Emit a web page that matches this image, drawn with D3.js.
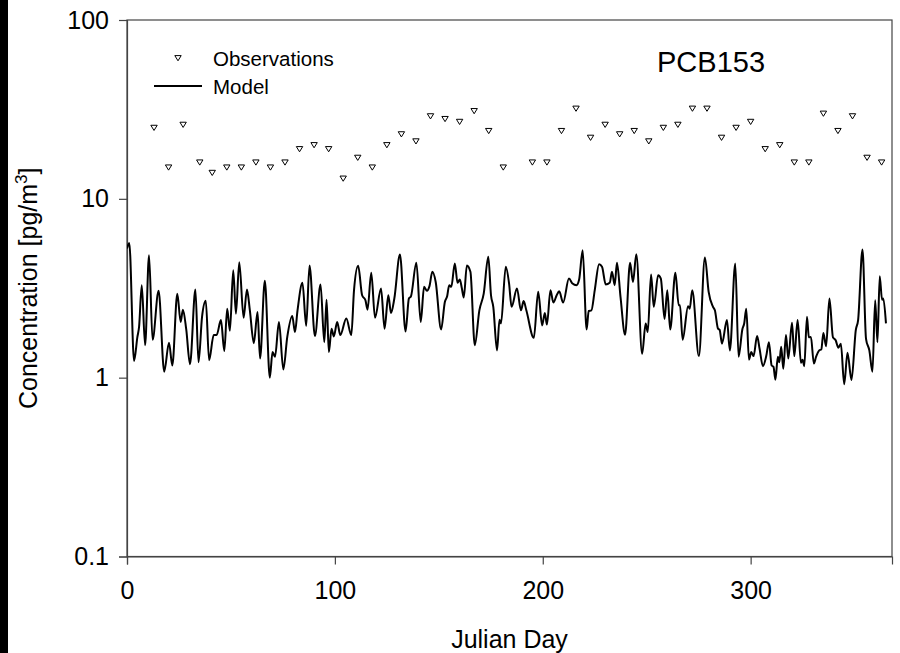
<!DOCTYPE html>
<html>
<head>
<meta charset="utf-8">
<script src="https://cdn.jsdelivr.net/npm/d3@7"></script>
<style>
  html, body { margin: 0; padding: 0; background: #fff; }
  svg { display: block; font-family: "Liberation Sans", Arial, sans-serif; }
</style>
</head>
<body>
<svg id="chart" width="900" height="653"></svg>
<script>
// ---- data ----
const obsDay = [13,20,27,35,41,48,55,62,69,76,83,90,97,104,111,118,125,132,139,146,153,160,167,174,181,195,202,209,216,223,230,237,244,251,258,265,272,279,286,293,300,307,314,321,328,335,342,349,356,363];
const obsConc = [25,15,26,16,14,15,15,16,15,16,19,20,19,13,17,15,20,23,21,29,28,27,31,24,15,16,16,24,32,22,26,23,24,21,25,26,32,32,22,25,27,19,20,16,16,30,24,29,17,16];

const modelDay = [0,1.1,3.4,5.0,5.8,7.1,8.7,10.6,12.3,15.2,17.9,20.2,21.8,24.2,25.8,26.9,28.5,30.3,32.9,34.4,36.1,37.9,39.5,41.7,43.1,45.2,46.8,48.2,49.5,51.1,52.4,54.0,56.1,57.7,59.1,61.0,62.8,64.0,66.3,68.7,70.0,
71.2,73.1,75.2,77.1,79.5,80.8,82.0,84.4,86.2,87.8,90.4,93.1,94.9,96.0,97.1,98.4,99.5,101.1,102.6,105.5,107.9,109.2,111.2,113.1,114.7,115.7,117.5,119.3,122.2,123.9,125.7,127.0,128.6,131.3,134.0,135.6,136.6,139.2,141.3,142.9,144.3,
145.5,146.9,148.5,151.1,152.9,154.0,155.0,156.0,157.7,159.0,160.1,161.1,162.0,163.5,165.2,167.3,169.5,171.6,173.8,175.1,176.2,178.0,179.2,179.9,182.2,183.8,185.0,187.6,189.5,190.8,192.1,195.7,197.8,199.7,201.0,202.0,203.7,205.1,206.7,207.9,209.8,212.6,214.3,216.2,217.5,219.2,
221.1,222.1,223.4,225.0,227.1,228.5,230.3,232.2,233.3,234.6,235.7,237.4,239.6,242.0,243.4,245.0,247.8,249.5,250.5,252.1,253.4,255.5,256.8,258.6,259.9,261.3,263.8,265.4,266.0,267.3,269.9,270.7,271.9,275.1,278.0,279.8,281.9,282.8,284.3,285.1,286.2,288.6,290.0,292.6,294.2,
296.0,296.9,297.9,299.2,300.3,301.4,303.1,304.3,305.9,307.5,308.8,310.1,311.0,311.9,313.1,313.8,314.7,315.7,317.0,318.1,319.9,321.0,322.6,324.2,325.0,325.8,327.1,328.0,329.0,330.4,331.5,333.0,334.0,335.0,336.3,337.9,339.6,340.9,342.2,343.4,345.0,346.6,348.5,350.6,351.7,353.8,355.5,357.1,358.6,359.9,361.0,362.1,363.2,363.8,365.1];
const modelConc = [5.28,5.67,1.24,1.69,1.92,3.29,1.52,4.84,1.63,3.06,1.08,1.57,1.17,2.95,2.05,2.40,1.86,1.19,3.11,1.22,2.19,2.69,1.25,1.73,1.73,2.10,1.41,2.43,1.83,3.99,2.28,4.42,2.16,3.11,2.38,1.56,2.33,1.28,3.48,1.00,1.39,
1.31,2.05,1.11,1.69,2.21,1.80,2.36,3.39,1.95,4.24,1.71,3.32,1.58,2.73,1.39,1.88,1.70,2.05,1.73,2.14,1.73,3.08,4.22,2.89,2.71,2.40,3.86,2.16,3.15,1.88,2.89,2.30,2.77,4.88,1.81,2.77,2.85,4.39,2.05,3.22,3.06,
3.25,3.91,3.43,1.86,2.65,2.85,3.29,3.22,4.35,3.39,3.54,3.15,2.81,4.24,3.91,1.52,2.38,2.95,4.74,2.89,2.49,1.42,2.11,2.01,4.17,3.36,2.49,3.15,2.38,2.68,2.38,1.67,3.02,1.96,2.30,1.98,3.08,2.63,2.89,3.04,2.63,3.58,3.36,3.29,3.54,5.16,
1.86,2.36,2.38,3.08,4.31,4.17,3.32,3.39,3.91,3.29,4.39,2.83,1.74,4.39,3.43,4.90,1.36,2.01,1.80,3.77,2.49,3.74,3.58,2.13,3.08,1.86,3.86,2.54,2.54,1.63,2.51,2.43,3.08,1.32,4.70,3.02,2.49,2.38,1.88,1.85,1.55,2.10,1.42,4.35,1.31,
1.86,2.01,2.43,1.26,1.39,1.32,1.71,1.45,1.16,1.32,1.58,1.17,1.15,0.975,1.31,1.22,1.49,1.12,1.73,1.28,2.03,1.32,2.10,1.21,1.26,1.16,2.19,1.68,1.69,1.20,1.31,1.42,1.44,1.78,1.50,2.77,1.68,1.62,1.47,1.55,0.92,1.38,0.97,1.85,2.10,5.21,1.65,1.42,1.08,2.71,1.58,3.69,2.73,2.77,2.01];

const xTicks = [0, 100, 200, 300];
const yTicks = [0.1, 1, 10, 100];
const yTickLabels = ["0.1", "1", "10", "100"];
const legendLabels = ["Observations", "Model"];
const compoundLabel = "PCB153";

// ---- layout ----
const svg = d3.select("#chart");
const W = 900, H = 653;
const m = { left: 127, top: 20, right: 8, bottom: 96.5 };
const iw = W - m.left - m.right, ih = H - m.top - m.bottom;

svg.append("rect").attr("x", 0).attr("y", 0).attr("width", W).attr("height", H).attr("fill", "#fff");
svg.append("rect").attr("x", 0).attr("y", 0).attr("width", 8).attr("height", H).attr("fill", "#000");

const x = d3.scaleLinear().domain([0, 368]).range([m.left, m.left + iw]);
const y = d3.scaleLog().domain([0.1, 100]).range([m.top + ih, m.top]);

// frame
svg.append("rect").attr("x", m.left).attr("y", m.top).attr("width", iw).attr("height", ih)
  .attr("fill", "none").attr("stroke", "#444").attr("stroke-width", 1.2);

// axes
const xAxis = d3.axisBottom(x).tickValues(xTicks).tickSize(8).tickPadding(17).tickFormat(d3.format("d"));
const gx = svg.append("g").attr("transform", `translate(0,${m.top + ih})`).call(xAxis);
gx.select(".domain").attr("stroke", "#444").attr("stroke-width", 1.2);
gx.selectAll(".tick line").attr("stroke", "#444").attr("stroke-width", 1.2);
gx.selectAll(".tick text").attr("font-size", 25).attr("fill", "#000").attr("font-family", "Liberation Sans, Arial, sans-serif");

const yAxis = d3.axisLeft(y).tickValues(yTicks).tickSize(8).tickPadding(10).tickFormat((d, i) => yTickLabels[i]);
const gy = svg.append("g").attr("transform", `translate(${m.left},0)`).call(yAxis);
gy.select(".domain").attr("stroke", "#444").attr("stroke-width", 1.2);
gy.selectAll(".tick line").attr("stroke", "#444").attr("stroke-width", 1.2);
gy.selectAll(".tick text").attr("font-size", 25).attr("fill", "#000").attr("font-family", "Liberation Sans, Arial, sans-serif");

// axis titles
svg.append("text").attr("x", m.left + iw / 2).attr("y", 648).attr("text-anchor", "middle")
  .attr("font-size", 25).attr("fill", "#000").text("Julian Day");

const yt = svg.append("text").attr("transform", `translate(37,${m.top + ih / 2}) rotate(-90)`)
  .attr("text-anchor", "middle").attr("font-size", 25).attr("fill", "#000");
yt.append("tspan").text("Concentration [pg/m");
yt.append("tspan").attr("font-size", 17).attr("dy", -10).text("3");
yt.append("tspan").attr("dy", 10).text("]");

// clip
svg.append("clipPath").attr("id", "clip").append("rect")
  .attr("x", m.left).attr("y", m.top).attr("width", iw).attr("height", ih);

// model line
const model = modelDay.map((d, i) => ({ d, v: modelConc[i] }));
const line = d3.line().x(p => x(p.d)).y(p => y(p.v)).curve(d3.curveMonotoneX);
svg.append("path").datum(model).attr("clip-path", "url(#clip)")
  .attr("d", line).attr("fill", "none").attr("stroke", "#000").attr("stroke-width", 2).attr("stroke-linejoin", "round");

// observations (down triangles)
const tri = (cx, cy) => `M${cx - 3.2},${cy - 2.4}L${cx + 3.2},${cy - 2.4}L${cx},${cy + 2.8}Z`;
const obs = obsDay.map((d, i) => ({ d, v: obsConc[i] }));
svg.append("g").selectAll("path").data(obs).join("path")
  .attr("d", p => tri(x(p.d), y(p.v)))
  .attr("fill", "#fff").attr("stroke", "#000").attr("stroke-width", 1);

// legend
svg.append("path").attr("d", tri(178, 58)).attr("fill", "#fff").attr("stroke", "#000").attr("stroke-width", 1);
svg.append("text").attr("x", 213).attr("y", 66).attr("font-size", 20.5).attr("fill", "#000").text(legendLabels[0]);
svg.append("line").attr("x1", 154).attr("x2", 202).attr("y1", 86).attr("y2", 86).attr("stroke", "#000").attr("stroke-width", 2);
svg.append("text").attr("x", 213).attr("y", 93.5).attr("font-size", 20.5).attr("fill", "#000").text(legendLabels[1]);

svg.append("text").attr("x", 657).attr("y", 72).attr("font-size", 29).attr("fill", "#000").text(compoundLabel);
</script>
</body>
</html>
